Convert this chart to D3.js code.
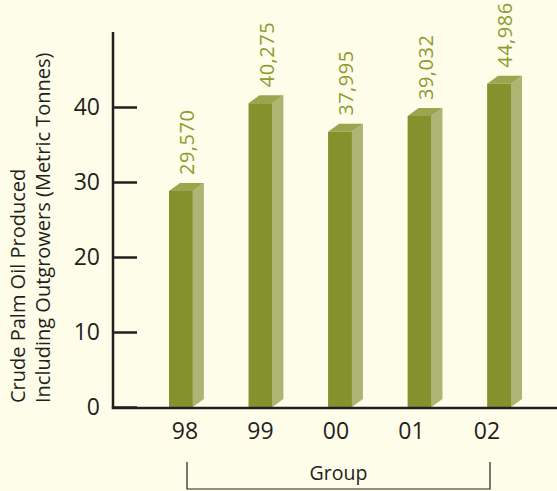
<!DOCTYPE html>
<head>
  <meta charset="utf-8">
  <script src="https://unpkg.com/d3@7/dist/d3.min.js"></script>
  <style>
    body {
      margin:0;
      background:#fefde9;
    }
    svg { display:block; }
    text { font-family: "Open Sans", Lato, sans-serif; fill:#231f20; }
  </style>
</head>

<body>
  <svg width="557" height="491"></svg>
  <script>
    // Data
    var years = ["98", "99", "00", "01", "02"];
    // tonnes, as printed above each bar
    var produced = [29570, 40275, 37995, 39032, 44986];
    // bar heights as drawn (thousand tonnes)
    var barHeights = [28.8, 40.5, 36.7, 38.8, 43.1];
    var yTicks = [0, 10, 20, 30, 40];
    var titleLines = ["Crude Palm Oil Produced", "Including Outgrowers (Metric Tonnes)"];
    var groupLabel = "Group";

    var svg = d3.select("svg"),
        width = +svg.attr("width");

    var axisX = 113, axisY = 407;
    var dx = 11, dy = 8;   // depth of the fake 3d

    var y = d3.scaleLinear().domain([0, 50]).range([axisY, 32]);
    var x = d3.scaleBand().domain(years).range([169, 511]).paddingInner(0.7);
    var xl = d3.scalePoint().domain(years).range([185, 487]);

    svg.append("rect").attr("width", width).attr("height", 491).attr("fill", "#fefde9");

    // bars
    var bars = svg.selectAll("g.bar")
      .data(years.map(function (d, i) { return {year: d, h: barHeights[i], v: produced[i]}; }))
      .enter().append("g").attr("class", "bar");

    bars.append("path")   // side
      .attr("fill", "#adb474")
      .attr("d", function (d) {
        var x1 = x(d.year) + x.bandwidth(), t = y(d.h);
        return "M" + x1 + "," + axisY + "L" + x1 + "," + t + "L" + (x1 + dx) + "," + (t - dy) +
               "L" + (x1 + dx) + "," + (axisY - dy) + "Z";
      });
    bars.append("path")   // top
      .attr("fill", "#9aa54e")
      .attr("d", function (d) {
        var x0 = x(d.year), x1 = x0 + x.bandwidth(), t = y(d.h);
        return "M" + x0 + "," + t + "L" + (x0 + dx) + "," + (t - dy) + "L" + (x1 + dx) + "," + (t - dy) +
               "L" + x1 + "," + t + "Z";
      });
    bars.append("rect")   // front
      .attr("fill", "#84922e")
      .attr("x", function (d) { return x(d.year); })
      .attr("y", function (d) { return y(d.h); })
      .attr("width", x.bandwidth())
      .attr("height", function (d) { return axisY - y(d.h); });

    bars.append("text")
      .attr("transform", function (d) {
        return "translate(" + (x(d.year) + 18) + "," + (y(d.h) - dy - 8) + ") rotate(-90)";
      })
      .attr("dy", "0.35em")
      .style("fill", "#8c9c32")
      .style("font-size", "20px")
      .style("letter-spacing", "0.5px")
      .text(function (d) { return d3.format(",")(d.v); });

    // y axis
    var yAxis = svg.append("g")
      .attr("transform", "translate(" + axisX + ",0)")
      .call(d3.axisLeft(y).tickValues(yTicks).tickSize(-24).tickSizeOuter(0).tickPadding(13).tickFormat(d3.format("d")));
    yAxis.select(".domain").remove();
    yAxis.selectAll("line").attr("stroke", "#231f20").attr("stroke-width", 2.5);
    yAxis.selectAll("text").style("font-size", "23px").style("font-family", "'Open Sans', sans-serif").attr("fill", "#231f20");

    svg.append("line")
      .attr("x1", axisX).attr("x2", axisX)
      .attr("y1", y(50)).attr("y2", axisY + 1.2)
      .attr("stroke", "#231f20").attr("stroke-width", 2.5);
    svg.append("line")
      .attr("x1", axisX - 1.2).attr("x2", width)
      .attr("y1", axisY + 1).attr("y2", axisY + 1)
      .attr("stroke", "#231f20").attr("stroke-width", 2.5);

    // x labels
    svg.selectAll("text.xl")
      .data(years).enter().append("text")
      .attr("class", "xl")
      .attr("x", function (d) { return xl(d); })
      .attr("y", 439)
      .attr("text-anchor", "middle")
      .style("font-size", "23px")
      .text(function (d) { return d; });

    // group bracket
    var bx0 = xl(years[0]) + 2, bx1 = xl(years[years.length - 1]) + 3;
    svg.append("path")
      .attr("fill", "none").attr("stroke", "#231f20").attr("stroke-width", 1.2)
      .attr("d", "M" + bx0 + ",462V489H" + bx1 + "V462");
    svg.append("text")
      .attr("x", (bx0 + bx1) / 2).attr("y", 480)
      .attr("text-anchor", "middle")
      .style("font-size", "19.5px")
      .text(groupLabel);

    // y title
    svg.selectAll("text.yt")
      .data(titleLines).enter().append("text")
      .attr("class", "yt")
      .attr("transform", function (d, i) { return "translate(" + (25 + i * 25) + ",403) rotate(-90)"; })
      .style("font-size", "20px")
      .text(function (d) { return d; });
  </script>
</body>
